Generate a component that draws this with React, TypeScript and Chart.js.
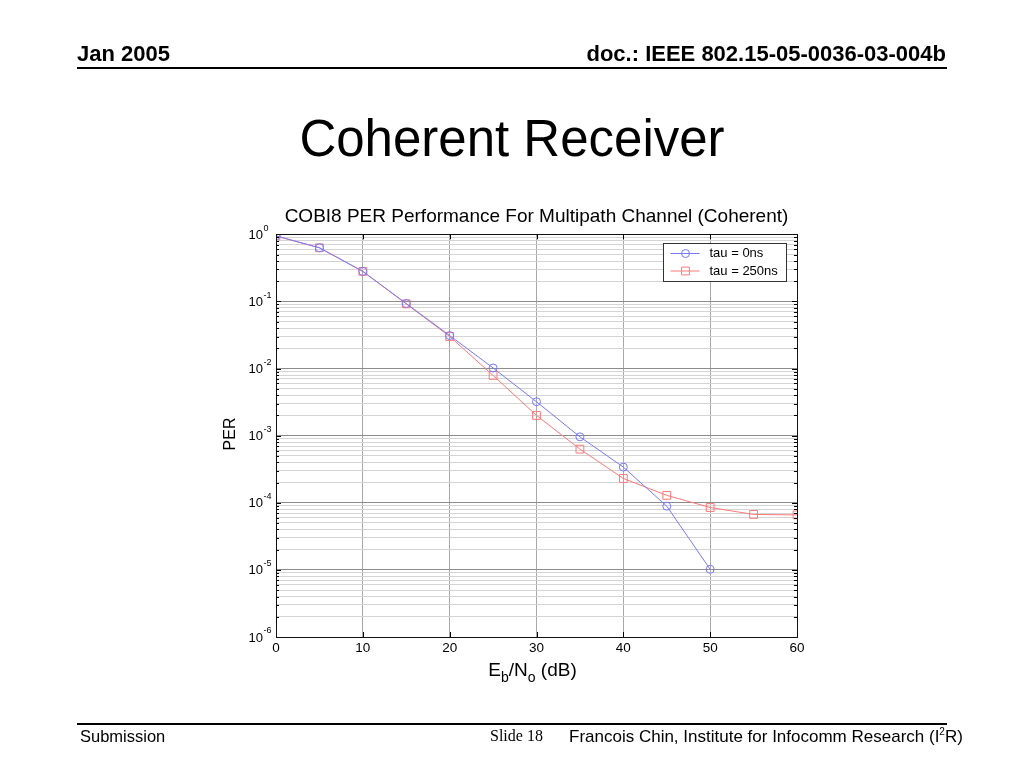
import React, { useEffect, useRef } from 'react';
import { Chart, registerables } from 'chart.js';

Chart.register(...registerables);

// ---------- data ----------
const ebnoDb = [0, 5, 10, 15, 20, 25, 30, 35, 40, 45, 50, 55, 60];
const perTau0ns = [0.95, 0.63, 0.28, 0.093, 0.031, 0.0102, 0.0032, 0.00096, 0.00034, 0.000089, 0.0000102];
const perTau250ns = [0.94, 0.63, 0.28, 0.092, 0.030, 0.0079, 0.002, 0.00063, 0.00023, 0.000129, 0.000085, 0.000067, 0.000066];
const seriesLabels = ['tau = 0ns', 'tau = 250ns'];
const xTicks = [0, 10, 20, 30, 40, 50, 60];
const yDecades = [0, -1, -2, -3, -4, -5, -6];
const yMantissas = [1, 2, 3, 4, 5, 6, 7, 8, 9];

const chartTitle = 'COBI8 PER Performance For Multipath Channel (Coherent)';
const yTitle = 'PER';
const xTitleParts = [
  { t: 'E', sub: false },
  { t: 'b', sub: true },
  { t: '/N', sub: false },
  { t: 'o', sub: true },
  { t: ' (dB)', sub: false },
];

const FONT = '"Liberation Sans", Arial, Helvetica, sans-serif';
const BLUE = 'rgb(120,120,255)';
const RED = 'rgb(255,120,120)';

const yGridValues: number[] = [];
yDecades.forEach((e) => {
  if (e === 0) yGridValues.push(1);
  else yMantissas.forEach((m) => yGridValues.push(m * Math.pow(10, e)));
});

const isDecade = (v: number) => {
  const l = Math.log10(v);
  return Math.abs(l - Math.round(l)) < 1e-6;
};

const drawMarker = (ctx: CanvasRenderingContext2D, style: string, x: number, y: number, color: string) => {
  ctx.strokeStyle = color;
  ctx.lineWidth = 1;
  ctx.beginPath();
  if (style === 'circle') ctx.arc(x, y, 4, 0, Math.PI * 2);
  else ctx.rect(x - 3.9, y - 3.9, 7.8, 7.8);
  ctx.stroke();
};

const matlabPlugin = {
  id: 'matlabAxes',
  afterDraw(chart: any) {
    const { ctx, chartArea: a, scales } = chart;
    const xs = scales.x;
    const ys = scales.y;
    ctx.save();

    // inward tick marks
    ctx.strokeStyle = '#000';
    ctx.lineWidth = 1;
    ctx.beginPath();
    yGridValues.forEach((v) => {
      const y = Math.round(ys.getPixelForValue(v)) + 0.5;
      const len = isDecade(v) ? 5 : 3;
      ctx.moveTo(a.left, y);
      ctx.lineTo(a.left + len, y);
      ctx.moveTo(a.right, y);
      ctx.lineTo(a.right - len, y);
    });
    xTicks.forEach((v) => {
      const x = Math.round(xs.getPixelForValue(v)) + 0.5;
      ctx.moveTo(x, a.bottom);
      ctx.lineTo(x, a.bottom - 5);
      ctx.moveTo(x, a.top);
      ctx.lineTo(x, a.top + 5);
    });
    ctx.stroke();

    // axes box
    ctx.strokeStyle = '#111';
    ctx.strokeRect(Math.round(a.left) + 0.5, Math.round(a.top) + 0.5, Math.round(a.right - a.left), Math.round(a.bottom - a.top));

    // y tick labels 10^k
    ctx.fillStyle = '#000';
    yDecades.forEach((e) => {
      const y = ys.getPixelForValue(Math.pow(10, e));
      ctx.font = `13px ${FONT}`;
      ctx.textAlign = 'right';
      ctx.textBaseline = 'middle';
      ctx.fillText('10', a.left - 13, y + 1);
      ctx.font = `9px ${FONT}`;
      ctx.textAlign = 'left';
      ctx.fillText(String(e), a.left - 12.5, y - 6);
    });

    // y axis title
    ctx.save();
    ctx.translate(a.left - 45, 434);
    ctx.rotate(-Math.PI / 2);
    ctx.font = `16px ${FONT}`;
    ctx.textAlign = 'center';
    ctx.textBaseline = 'middle';
    ctx.fillText(yTitle, 0, 0);
    ctx.restore();

    // x axis title with subscripts
    ctx.textAlign = 'left';
    ctx.textBaseline = 'alphabetic';
    let total = 0;
    xTitleParts.forEach((p) => {
      ctx.font = `${p.sub ? 14 : 19}px ${FONT}`;
      total += ctx.measureText(p.t).width;
    });
    let tx = (a.left + a.right) / 2 - 4 - total / 2;
    const base = 676;
    xTitleParts.forEach((p) => {
      ctx.font = `${p.sub ? 14 : 19}px ${FONT}`;
      ctx.fillText(p.t, tx, base + (p.sub ? 6 : 0));
      tx += ctx.measureText(p.t).width;
    });

    // legend box
    const lw = 123;
    const lh = 38;
    const lx = Math.round(a.right - 11 - lw) + 0.5;
    const ly = Math.round(a.top + 9) + 0.5;
    ctx.fillStyle = '#fff';
    ctx.fillRect(lx, ly, lw, lh);
    ctx.strokeStyle = '#333';
    ctx.lineWidth = 1;
    ctx.strokeRect(lx, ly, lw, lh);
    chart.data.datasets.forEach((ds: any, i: number) => {
      const cy = ly + 10 + i * 17.5;
      ctx.strokeStyle = ds.borderColor;
      ctx.beginPath();
      ctx.moveTo(lx + 7, cy);
      ctx.lineTo(lx + 36, cy);
      ctx.stroke();
      drawMarker(ctx, ds.pointStyle, lx + 22, cy, ds.borderColor);
      ctx.fillStyle = '#000';
      ctx.font = `13px ${FONT}`;
      ctx.textAlign = 'left';
      ctx.textBaseline = 'middle';
      ctx.fillText(ds.label, lx + 46, cy);
    });

    ctx.restore();
  },
};

const baseline = (size: number, top: number) => top - 0.8465 * size;

export default function App() {
  const ref = useRef<HTMLCanvasElement>(null);

  useEffect(() => {
    const canvas = ref.current;
    if (!canvas) return;
    const chart = new Chart(canvas, {
      type: 'line',
      data: {
        datasets: [
          {
            label: seriesLabels[0],
            data: perTau0ns.map((y, i) => ({ x: ebnoDb[i], y })),
            borderColor: BLUE,
            backgroundColor: 'rgba(0,0,0,0)',
            borderWidth: 1,
            pointStyle: 'circle',
            pointRadius: 4,
            pointBorderColor: BLUE,
            pointBackgroundColor: 'rgba(0,0,0,0)',
            pointBorderWidth: 1,
            tension: 0,
            fill: false,
          },
          {
            label: seriesLabels[1],
            data: perTau250ns.map((y, i) => ({ x: ebnoDb[i], y })),
            borderColor: RED,
            backgroundColor: 'rgba(0,0,0,0)',
            borderWidth: 1,
            pointStyle: 'rect',
            pointRadius: 5.5,
            pointBorderColor: RED,
            pointBackgroundColor: 'rgba(0,0,0,0)',
            pointBorderWidth: 1,
            tension: 0,
            fill: false,
          },
        ],
      } as any,
      options: {
        responsive: false,
        animation: false,
        events: [],
        layout: { padding: { left: 0, right: 227, top: 205.5, bottom: 0 } },
        plugins: {
          legend: { display: false },
          tooltip: { enabled: false },
          title: {
            display: true,
            text: chartTitle,
            fullSize: false,
            color: '#000',
            font: { family: FONT, size: 19, weight: 'normal' },
            padding: { top: 0, bottom: 6 },
          },
        },
        scales: {
          x: {
            type: 'linear',
            min: 0,
            max: 60,
            afterFit: (s: any) => {
              s.height = 131;
            },
            afterBuildTicks: (s: any) => {
              s.ticks = xTicks.map((v) => ({ value: v }));
            },
            ticks: {
              color: '#000',
              font: { family: FONT, size: 13.5 },
              padding: 3,
              maxRotation: 0,
              autoSkip: false,
            },
            grid: { color: '#a8a8a8', drawTicks: false },
            border: { display: false },
          },
          y: {
            type: 'logarithmic',
            min: 1e-6,
            max: 1,
            afterFit: (s: any) => {
              s.width = 276;
            },
            afterBuildTicks: (s: any) => {
              s.ticks = yGridValues.map((v) => ({ value: v }));
            },
            ticks: { display: false },
            grid: {
              color: (c: any) => (c.tick && isDecade(c.tick.value) ? '#8c8c8c' : '#d4d4d4'),
              drawTicks: false,
            },
            border: { display: false },
          },
        },
      } as any,
      plugins: [matlabPlugin],
    });
    return () => chart.destroy();
  }, []);

  const abs: React.CSSProperties = { position: 'absolute', whiteSpace: 'nowrap', margin: 0 };

  return (
    <div
      style={{
        position: 'absolute',
        left: 0,
        top: 0,
        width: 1024,
        height: 768,
        background: '#fff',
        overflow: 'hidden',
        fontFamily: FONT,
        color: '#000',
      }}
    >
      <canvas ref={ref} width={1024} height={768} style={{ position: 'absolute', left: 0, top: 0, width: 1024, height: 768 }} />

      {/* header */}
      <div style={{ ...abs, left: 77, top: baseline(22, 61.7), fontSize: 22, lineHeight: '22px', fontWeight: 'bold' }}>Jan 2005</div>
      <div style={{ ...abs, right: 1024 - 946, top: baseline(22, 61.7), fontSize: 22, lineHeight: '22px', fontWeight: 'bold' }}>
        doc.: IEEE 802.15-05-0036-03-004b
      </div>
      <div style={{ ...abs, left: 77, top: 67, width: 870, height: 2, background: '#000' }} />

      {/* slide title */}
      <div style={{ ...abs, left: 0, width: 1024, textAlign: 'center', top: baseline(51, 156), fontSize: 51, lineHeight: '51px' }}>
        Coherent Receiver
      </div>

      {/* footer */}
      <div style={{ ...abs, left: 77, top: 723, width: 870, height: 2, background: '#000' }} />
      <div style={{ ...abs, left: 80, top: baseline(16.5, 742), fontSize: 16.5, lineHeight: '16.5px' }}>Submission</div>
      <div
        style={{
          ...abs,
          left: 490,
          top: baseline(16, 742),
          fontSize: 16,
          lineHeight: '16px',
          fontFamily: '"Liberation Serif", "Times New Roman", serif',
        }}
      >
        Slide 18
      </div>
      <div style={{ ...abs, left: 569, top: baseline(17, 742), fontSize: 17, lineHeight: '17px' }}>
        Francois Chin, Institute for Infocomm Research (I
        <sup style={{ fontSize: 10, lineHeight: 0, verticalAlign: 'super' }}>2</sup>R)
      </div>
    </div>
  );
}
